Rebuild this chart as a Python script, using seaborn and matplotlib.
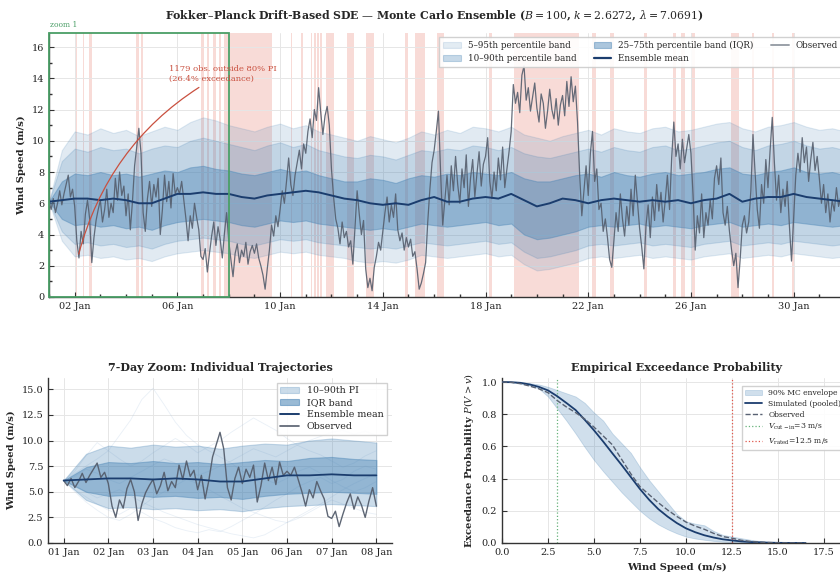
import numpy as np
import pandas as pd
import matplotlib
matplotlib.use("Agg")
import matplotlib.pyplot as plt
import matplotlib.dates as mdates
from matplotlib.patches import Patch, Rectangle
from matplotlib.lines import Line2D
from matplotlib.ticker import MultipleLocator
import seaborn as sns

# ---------------- data ----------------
START = "2024-01-01"
OBS_STEP_H = 2          # observed values every 2 hours
BAND_STEP_H = 12        # ensemble statistics every 12 hours
TRAJ_STEP_H = 6         # sample trajectories every 6 hours

obs_days = [
    [6.1, 5.6, 6.3, 5.4, 6.0, 6.8, 5.9, 6.6, 7.2, 7.8, 6.4, 6.9],
    [5.8, 3.6, 2.5, 4.2, 3.4, 5.3, 6.2, 5.0, 2.2, 3.8, 4.9, 5.6],
    [6.2, 4.8, 5.6, 6.9, 5.1, 6.0, 5.4, 7.6, 6.2, 8.0, 6.5, 7.1],
    [5.2, 6.6, 4.3, 6.1, 8.4, 9.6, 10.8, 9.2, 5.4, 4.2, 6.3, 7.4],
    [5.8, 7.2, 6.4, 7.6, 4.0, 5.6, 7.8, 6.1, 7.4, 5.7, 7.9, 6.6],
    [7.0, 6.6, 7.4, 6.2, 5.0, 3.6, 5.2, 4.4, 6.0, 5.1, 4.3, 2.6],
    [2.4, 3.1, 1.6, 2.8, 3.9, 4.8, 3.3, 4.5, 3.7, 2.5, 4.1, 5.4],
    [3.6, 2.4, 1.3, 2.8, 3.4, 2.2, 3.0, 2.6, 3.5, 2.1, 2.9, 3.3],
    [2.8, 3.4, 2.5, 2.0, 1.4, 0.5, 1.8, 3.0, 4.6, 3.9, 5.2, 4.5],
    [5.6, 6.8, 6.0, 7.4, 8.9, 7.2, 6.5, 7.8, 8.6, 9.4, 8.2, 9.8],
    [9.2, 10.6, 11.4, 10.2, 12.0, 11.3, 13.4, 11.8, 10.4, 11.6, 12.2, 11.0],
    [8.2, 6.4, 5.0, 4.4, 3.4, 4.8, 3.8, 4.2, 3.2, 3.6, 2.1, 4.4],
    [6.8, 5.3, 4.0, 4.9, 1.8, 0.6, 1.2, 0.4, 1.9, 2.6, 3.5, 3.0],
    [4.2, 5.4, 6.4, 4.8, 5.9, 5.1, 6.6, 4.3, 3.6, 4.1, 3.0, 3.8],
    [3.2, 3.7, 2.6, 2.9, 1.8, 0.5, 0.9, 1.5, 2.2, 4.8, 6.9, 8.6],
    [9.4, 10.6, 11.9, 8.0, 4.6, 6.2, 7.8, 5.9, 8.4, 6.8, 9.0, 7.2],
    [6.0, 8.2, 7.0, 9.1, 5.8, 7.6, 8.8, 6.4, 7.9, 9.3, 7.1, 8.5],
    [9.0, 10.2, 7.4, 6.3, 8.0, 6.8, 8.9, 7.5, 9.6, 7.0, 8.2, 9.3],
    [10.6, 13.6, 12.4, 13.1, 11.8, 14.2, 14.8, 12.6, 13.4, 11.9, 12.8, 13.7],
    [12.1, 11.2, 13.0, 12.4, 10.8, 11.9, 13.3, 12.0, 11.4, 12.7, 11.0, 12.3],
    [12.9, 11.6, 13.8, 12.2, 14.1, 12.5, 13.5, 11.2, 7.8, 5.2, 6.8, 8.4],
    [6.5, 9.2, 10.6, 7.4, 8.2, 5.6, 6.0, 4.2, 5.0, 3.8, 2.4, 1.9],
    [3.6, 5.4, 4.2, 6.6, 5.0, 3.9, 5.8, 4.6, 6.9, 5.2, 7.8, 6.1],
    [4.4, 3.2, 1.8, 4.6, 5.9, 3.8, 6.4, 4.9, 7.2, 5.5, 6.7, 4.8],
    [6.2, 7.8, 5.6, 8.9, 11.2, 9.0, 9.8, 8.2, 10.1, 8.6, 9.5, 10.4],
    [9.2, 6.5, 3.0, 5.2, 4.1, 6.6, 3.8, 5.4, 4.6, 6.2, 5.0, 7.6],
    [8.4, 7.2, 8.9, 5.4, 4.6, 5.8, 4.2, 3.0, 2.0, 2.8, 0.6, 2.4],
    [4.6, 5.2, 4.1, 4.8, 6.8, 10.4, 7.9, 5.6, 4.4, 7.2, 6.0, 8.8],
    [7.0, 9.4, 11.5, 8.6, 6.2, 7.8, 5.4, 6.9, 5.8, 7.4, 4.6, 2.3],
    [5.0, 7.8, 9.2, 8.0, 10.2, 8.6, 9.6, 7.4, 8.8, 9.9, 8.1, 9.0],
    [7.6, 6.0, 7.2, 5.4, 6.6, 4.8, 6.2, 5.5, 7.0, 5.8, 6.4, 5.2],
]
obs_last = 6.0

ens_mean = [6.1, 6.2, 6.3, 6.3, 6.2, 6.3, 6.2, 6.0, 6.0, 6.3, 6.6, 6.6, 6.7, 6.6, 6.6,
            6.4, 6.3, 6.5, 6.6, 6.7, 6.8, 6.7, 6.5, 6.3, 6.2, 6.0, 5.9, 6.0, 5.9, 6.2,
            6.4, 6.1, 6.1, 6.3, 6.4, 6.3, 6.6, 6.2, 5.8, 6.0, 6.3, 6.2, 6.0, 6.2, 6.3,
            6.2, 6.1, 6.2, 6.1, 6.2, 6.0, 6.2, 6.3, 6.6, 6.1, 6.3, 6.4, 6.4, 6.6, 6.4,
            6.3, 6.2, 6.1]
p95 = [6.1, 9.4, 10.6, 10.4, 10.8, 10.5, 10.7, 10.3, 10.6, 10.9,
       10.7, 11.2, 11.5, 11.3, 11.0, 10.8, 10.6, 10.9, 11.1, 10.8,
       11.0, 10.6, 10.4, 10.2, 10.0, 10.3, 10.1, 9.9, 10.2, 10.6,
       10.4, 10.7, 10.5, 10.9, 10.8, 10.6, 10.9, 10.4, 10.2, 10.0,
       10.3, 10.5, 10.7, 10.4, 10.8, 10.6, 10.5, 10.8, 10.9, 10.6,
       10.7, 10.9, 11.1, 11.2, 10.8, 10.6, 10.9, 11.0, 11.2, 10.9,
       10.7, 10.8, 10.6]
p90 = [6.1, 8.7, 9.5, 9.3, 9.6, 9.4, 9.5, 9.2, 9.5, 9.7,
       9.6, 10.0, 10.2, 10.0, 9.8, 9.6, 9.4, 9.7, 9.9, 9.6,
       9.8, 9.4, 9.2, 9.0, 8.9, 9.1, 9.0, 8.8, 9.1, 9.4,
       9.3, 9.5, 9.4, 9.7, 9.6, 9.4, 9.6, 9.2, 9.0, 8.9,
       9.1, 9.3, 9.5, 9.3, 9.6, 9.4, 9.3, 9.6, 9.7, 9.4,
       9.5, 9.7, 9.9, 10.0, 9.6, 9.4, 9.7, 9.8, 10.0, 9.7,
       9.5, 9.6, 9.4]
p75 = [6.1, 7.4, 7.9, 7.8, 8.0, 7.8, 7.9, 7.7, 7.9, 8.1,
       8.0, 8.3, 8.4, 8.2, 8.1, 7.9, 7.8, 8.0, 8.2, 8.0,
       8.1, 7.8, 7.6, 7.4, 7.4, 7.6, 7.5, 7.3, 7.6, 7.8,
       7.7, 7.9, 7.8, 8.0, 7.9, 7.8, 8.0, 7.6, 7.4, 7.4,
       7.6, 7.8, 7.9, 7.7, 8.0, 7.8, 7.7, 7.9, 8.0, 7.8,
       7.9, 8.0, 8.2, 8.3, 7.9, 7.8, 8.0, 8.1, 8.3, 8.0,
       7.9, 8.0, 7.8]
p25 = [6.1, 5.0, 4.6, 4.7, 4.5, 4.6, 4.4, 4.5, 4.3, 4.6,
       4.8, 4.9, 5.0, 4.9, 4.8, 4.6, 4.5, 4.7, 4.9, 4.8,
       4.9, 4.7, 4.6, 4.5, 4.4, 4.3, 4.4, 4.3, 4.5, 4.7,
       4.6, 4.5, 4.6, 4.7, 4.8, 4.6, 4.7, 4.0, 3.7, 3.8,
       4.0, 4.2, 4.5, 4.6, 4.5, 4.6, 4.7, 4.5, 4.6, 4.5,
       4.4, 4.6, 4.7, 4.8, 4.5, 4.6, 4.7, 4.6, 4.8, 4.7,
       4.6, 4.5, 4.6]
p10 = [6.1, 4.2, 3.4, 3.5, 3.3, 3.4, 3.2, 3.3, 3.1, 3.4,
       3.6, 3.7, 3.8, 3.7, 3.6, 3.4, 3.3, 3.5, 3.7, 3.6,
       3.7, 3.5, 3.4, 3.3, 3.2, 3.1, 3.2, 3.1, 3.3, 3.5,
       3.4, 3.3, 3.4, 3.5, 3.6, 3.4, 3.5, 2.9, 2.5, 2.6,
       2.8, 3.0, 3.3, 3.4, 3.3, 3.4, 3.5, 3.3, 3.4, 3.3,
       3.2, 3.4, 3.5, 3.6, 3.3, 3.4, 3.5, 3.4, 3.6, 3.5,
       3.4, 3.3, 3.4]
p5 = [6.1, 3.6, 2.6, 2.7, 2.5, 2.6, 2.4, 2.5, 2.3, 2.6,
      2.8, 2.9, 3.0, 2.9, 2.8, 2.6, 2.5, 2.7, 2.9, 2.8,
      2.9, 2.7, 2.6, 2.5, 2.3, 2.2, 2.3, 2.2, 2.4, 2.7,
      2.6, 2.5, 2.6, 2.7, 2.8, 2.6, 2.7, 2.1, 1.7, 1.8,
      2.0, 2.2, 2.5, 2.6, 2.5, 2.6, 2.7, 2.5, 2.6, 2.5,
      2.4, 2.6, 2.7, 2.8, 2.5, 2.6, 2.7, 2.6, 2.8, 2.7,
      2.6, 2.5, 2.6]

# periods (day offsets from START) where observed falls outside the 10-90% band
exceed_start = [1.06, 1.15, 1.23, 1.32, 1.55, 3.40, 3.57, 5.93, 6.17, 6.37, 6.63, 6.83,
                7.06, 9.44, 9.82, 10.20, 10.32, 10.44, 10.57, 10.77, 11.62, 12.33,
                13.85, 14.27, 15.12, 17.13, 18.10, 21.13, 21.86, 23.19, 24.30, 24.62,
                25.00, 26.57, 27.36, 28.14, 28.95]
exceed_end = [1.09, 1.18, 1.26, 1.35, 1.67, 3.51, 3.67, 6.05, 6.23, 6.50, 6.69, 6.96,
              8.70, 9.47, 9.88, 10.25, 10.38, 10.50, 10.64, 11.10, 11.87, 12.64,
              13.98, 14.66, 15.38, 17.24, 20.65, 21.30, 21.99, 23.29, 24.43, 24.75,
              25.15, 26.87, 27.46, 28.23, 29.05]

traj_a = [6.1, 6.8, 7.5, 8.2, 9.0, 10.5, 12.0, 14.0, 15.1, 13.5, 11.8, 10.5, 9.6, 9.0, 8.4,
          7.8, 7.0, 6.5, 6.2, 5.8, 6.3, 7.0, 7.4, 6.8, 6.1, 5.5, 5.0, 5.4, 6.0]
traj_b = [6.1, 5.2, 4.5, 3.8, 3.2, 2.8, 3.4, 3.0, 2.4, 2.0, 1.5, 1.2, 1.0, 1.3, 1.1,
          1.6, 2.2, 2.8, 3.5, 4.2, 4.8, 5.5, 6.0, 6.4, 5.8, 6.2, 7.0, 7.5, 7.2]
traj_c = [6.1, 7.0, 8.5, 9.8, 9.0, 8.2, 7.5, 8.0, 8.8, 9.5, 10.2, 9.6, 8.8, 9.4, 10.0,
          10.8, 11.5, 12.2, 11.6, 11.0, 10.2, 9.5, 9.0, 8.6, 8.0, 7.4, 7.8, 8.5, 9.0]
traj_d = [6.1, 5.6, 5.0, 4.4, 4.8, 5.2, 4.6, 4.0, 3.5, 3.0, 2.6, 2.2, 1.8, 1.5, 1.2,
          0.9, 0.7, 0.5, 0.8, 1.4, 2.0, 2.6, 3.2, 3.8, 4.5, 5.2, 5.8, 6.3, 6.8]
traj_e = [6.1, 6.5, 7.2, 6.8, 6.2, 5.8, 6.4, 7.0, 7.6, 8.2, 7.8, 7.2, 6.6, 7.0, 7.5,
          8.0, 8.6, 9.2, 8.8, 8.4, 9.0, 9.6, 10.0, 10.4, 10.8, 11.0, 10.6, 10.9, 10.5]
traj_f = [6.1, 5.0, 4.0, 3.2, 2.5, 2.2, 2.8, 3.6, 4.4, 5.0, 5.6, 6.2, 5.8, 5.2, 4.6,
          4.0, 3.4, 3.0, 2.6, 2.2, 2.0, 2.4, 3.0, 3.6, 4.2, 3.8, 3.4, 3.0, 2.8]

speed_grid = [0, 0.5, 1, 1.5, 2, 2.5, 3, 3.5, 4, 4.5, 5, 5.5, 6, 6.5, 7, 7.5, 8, 8.5,
              9, 9.5, 10, 10.5, 11, 11.5, 12, 12.5, 13, 13.5, 14, 14.5, 15, 15.5, 16, 16.5]
exc_sim = [1.0, 0.999, 0.995, 0.985, 0.97, 0.948, 0.912, 0.87, 0.826, 0.765, 0.70, 0.63,
           0.557, 0.485, 0.41, 0.335, 0.268, 0.21, 0.164, 0.124, 0.091, 0.067, 0.048,
           0.034, 0.023, 0.016, 0.010, 0.006, 0.004, 0.002, 0.001, 0.0006, 0.0003, 0.0001]
exc_obs = [1.0, 0.998, 0.99, 0.975, 0.958, 0.934, 0.885, 0.845, 0.81, 0.77, 0.72, 0.665,
           0.61, 0.52, 0.43, 0.35, 0.30, 0.25, 0.205, 0.165, 0.13, 0.105, 0.085, 0.06,
           0.04, 0.03, 0.017, 0.01, 0.005, 0.003, 0.001, 0.0005, 0.0002, 0.0]
env_hi = [1.0, 1.0, 0.998, 0.993, 0.985, 0.97, 0.95, 0.93, 0.91, 0.87, 0.81, 0.76,
          0.68, 0.62, 0.56, 0.47, 0.39, 0.32, 0.25, 0.18, 0.135, 0.12, 0.11, 0.075,
          0.05, 0.04, 0.03, 0.02, 0.012, 0.006, 0.003, 0.001, 0.0, 0.0]
env_lo = [1.0, 0.998, 0.99, 0.978, 0.96, 0.91, 0.835, 0.76, 0.68, 0.595, 0.515, 0.445,
          0.38, 0.315, 0.257, 0.20, 0.153, 0.115, 0.085, 0.06, 0.04, 0.028, 0.02,
          0.013, 0.008, 0.005, 0.003, 0.001, 0.0, 0.0, 0.0, 0.0, 0.0, 0.0]
v_cut_in = 3.0
v_rated = 12.5

# ---------------- style ----------------
sns.set_theme(style="whitegrid")
plt.rcParams.update({
    "font.family": ["DejaVu Serif"],
    "mathtext.fontset": "dejavuserif",
    "axes.edgecolor": "#333333",
    "axes.linewidth": 1.0,
    "xtick.direction": "in", "ytick.direction": "in",
    "xtick.bottom": True, "ytick.left": True,
    "xtick.major.size": 3.5, "ytick.major.size": 3.5,
    "xtick.minor.size": 2, "ytick.minor.size": 2,
    "xtick.major.width": 0.8, "ytick.major.width": 0.8,
    "xtick.color": "#333333", "ytick.color": "#333333",
    "xtick.labelcolor": "#222222", "ytick.labelcolor": "#222222",
    "xtick.labelsize": 7, "ytick.labelsize": 7,
    "grid.color": "#e6e6e6", "grid.linewidth": 0.7,
    "axes.labelsize": 7.2, "axes.labelweight": "bold",
    "axes.titlesize": 8, "axes.titleweight": "bold",
    "legend.fontsize": 7,
})

BAND = "#4682b4"
MEAN = "#1b3d6e"
OBS = "#555e6d"
EXC = "#e25b4c"
GREEN = "#4a9e66"
RED_TXT = "#c9503f"

base = mdates.date2num(pd.Timestamp(START))
obs_vals = np.array([v for day in obs_days for v in day] + [obs_last])
obs_t = base + np.arange(len(obs_vals)) * OBS_STEP_H / 24.0
band_t = base + np.arange(len(ens_mean)) * BAND_STEP_H / 24.0
p5a, p10a, p25a, p75a, p90a, p95a, meana = map(np.array, (p5, p10, p25, p75, p90, p95, ens_mean))

fig = plt.figure(figsize=(8.4, 5.73), dpi=100)
W, H = 840.0, 573.0
ax1 = fig.add_axes([49 / W, 1 - 297 / H, 796 / W, 264 / H])
ax2 = fig.add_axes([48 / W, 1 - 543 / H, 344 / W, 165 / H])
ax3 = fig.add_axes([502 / W, 1 - 543 / H, 349.6 / W, 165 / H])

# ---------------- top panel ----------------
for s, e in zip(exceed_start, exceed_end):
    ax1.axvspan(base + s, base + e, color=EXC, alpha=0.22, lw=0, zorder=0.5)
ax1.fill_between(band_t, p5a, p95a, color=BAND, alpha=0.16, lw=0.8, zorder=1)
ax1.fill_between(band_t, p10a, p90a, color=BAND, alpha=0.2, lw=0.8, zorder=1.1)
ax1.fill_between(band_t, p25a, p75a, color=BAND, alpha=0.4, lw=0.8, zorder=1.2)
sns.lineplot(x=obs_t, y=obs_vals, ax=ax1, color=OBS, lw=0.9, alpha=0.9, zorder=3)
sns.lineplot(x=band_t, y=meana, ax=ax1, color=MEAN, lw=1.4, zorder=4)

ymax_top = 16.9
ax1.set_xlim(base, base + 31)
ax1.set_ylim(0, ymax_top)
ax1.add_patch(Rectangle((base, 0), 7, ymax_top, fill=False, edgecolor=GREEN,
                        lw=1.3, zorder=6, clip_on=False))
ax1.text(base + 0.02, ymax_top + 0.25, "zoom 1", fontsize=5.5, color=GREEN,
         ha="left", va="bottom")
n_out, pct_out = 1179, 26.4
ax1.annotate(f"{n_out} obs. outside 80% PI\n({pct_out}% exceedance)",
             xy=(base + 1.13, 2.58), xytext=(base + 6.76, 14.3),
             ha="center", va="center", ma="left", fontsize=6, color=RED_TXT,
             linespacing=1.35,
             arrowprops=dict(arrowstyle="-", color=RED_TXT, lw=0.9,
                             connectionstyle="arc3,rad=0.22"), zorder=7)
ax1.xaxis.set_major_locator(mdates.DayLocator(bymonthday=[2, 6, 10, 14, 18, 22, 26, 30]))
ax1.xaxis.set_minor_locator(mdates.DayLocator())
ax1.xaxis.set_major_formatter(mdates.DateFormatter("%d %b"))
ax1.yaxis.set_major_locator(MultipleLocator(2))
ax1.yaxis.set_minor_locator(MultipleLocator(1))
ax1.set_ylabel("Wind Speed (m/s)")
ax1.set_xlabel("")
h1 = [Patch(facecolor=BAND, alpha=0.15, edgecolor=BAND, lw=0.8),
      Patch(facecolor=BAND, alpha=0.3, edgecolor=BAND, lw=0.8),
      Patch(facecolor=BAND, alpha=0.45, edgecolor=BAND, lw=0.8),
      Line2D([], [], color=MEAN, lw=1.6),
      Line2D([], [], color="#9aa0a8", lw=1.4)]
l1 = ["5–95th percentile band", "10–90th percentile band", "25–75th percentile band (IQR)",
      "Ensemble mean", "Observed"]
ax1.legend(h1, l1, ncol=3, loc="upper right", bbox_to_anchor=(1.0015, 1.0), fontsize=6.3,
           frameon=True, framealpha=0.9, edgecolor="#cccccc", fancybox=False,
           borderaxespad=0.5, columnspacing=2.0, handlelength=2.0, handletextpad=0.8,
           borderpad=0.45, labelspacing=0.45)

# ---------------- bottom-left: 7-day zoom ----------------
zoom_days = 7
traj_t = base + np.arange(len(traj_a)) * TRAJ_STEP_H / 24.0
for tr in (traj_a, traj_b, traj_c, traj_d, traj_e, traj_f):
    sns.lineplot(x=traj_t, y=tr, ax=ax2, color="#a9c3df", lw=0.6, alpha=0.25, zorder=1)
mz = band_t <= base + zoom_days + 1e-9
ax2.fill_between(band_t[mz], p10a[mz], p90a[mz], color=BAND, alpha=0.28, lw=0.8, zorder=2)
ax2.fill_between(band_t[mz], p25a[mz], p75a[mz], color=BAND, alpha=0.42, lw=0.8, zorder=2.1)
mo = obs_t <= base + zoom_days + 1e-9
sns.lineplot(x=obs_t[mo], y=obs_vals[mo], ax=ax2, color=OBS, lw=1.0, alpha=0.95, zorder=3)
sns.lineplot(x=band_t[mz], y=meana[mz], ax=ax2, color=MEAN, lw=1.3, zorder=4)
ax2.set_xlim(base - 0.35, base + zoom_days + 0.35)
ax2.set_ylim(0, 16.1)
ax2.xaxis.set_major_locator(mdates.DayLocator())
ax2.xaxis.set_major_formatter(mdates.DateFormatter("%d %b"))
ax2.yaxis.set_major_locator(MultipleLocator(2.5))
ax2.set_title("7-Day Zoom: Individual Trajectories", pad=5)
ax2.set_ylabel("Wind Speed (m/s)")
ax2.set_xlabel("")
h2 = [Patch(facecolor=BAND, alpha=0.28, edgecolor=BAND, lw=0.8),
      Patch(facecolor=BAND, alpha=0.55, edgecolor=BAND, lw=0.8),
      Line2D([], [], color=MEAN, lw=1.4),
      Line2D([], [], color=OBS, lw=1.2)]
ax2.legend(h2, ["10–90th PI", "IQR band", "Ensemble mean", "Observed"], loc="upper right",
           fontsize=6.8, frameon=True, framealpha=0.9, edgecolor="#cccccc", fancybox=False,
           borderpad=0.4, labelspacing=0.3, handlelength=2.0)

# ---------------- bottom-right: exceedance ----------------
ax3.fill_between(speed_grid, env_lo, env_hi, color=BAND, alpha=0.25, lw=0.6, zorder=1)
sns.lineplot(x=speed_grid, y=exc_sim, ax=ax3, color=MEAN, lw=1.3, zorder=3)
sns.lineplot(x=speed_grid, y=exc_obs, ax=ax3, color="#596273", lw=1.0, linestyle="--", zorder=3)
ax3.axvline(v_cut_in, color="#66b27a", lw=0.9, ls=":", zorder=2)
ax3.axvline(v_rated, color="#e0554a", lw=0.9, ls=":", zorder=2)
ax3.set_xlim(0, 19)
ax3.set_ylim(0, 1.025)
ax3.xaxis.set_major_locator(MultipleLocator(2.5))
ax3.yaxis.set_major_locator(MultipleLocator(0.2))
ax3.set_title("Empirical Exceedance Probability", pad=5)
ax3.set_xlabel("Wind Speed (m/s)")
ax3.set_ylabel(r"Exceedance Probability $P(V > v)$")
h3 = [Patch(facecolor=BAND, alpha=0.25, edgecolor=BAND, lw=0.6),
      Line2D([], [], color=MEAN, lw=1.3),
      Line2D([], [], color="#596273", lw=1.0, ls="--"),
      Line2D([], [], color="#66b27a", lw=0.9, ls=":"),
      Line2D([], [], color="#e0554a", lw=0.9, ls=":")]
l3 = ["90% MC envelope", "Simulated (pooled)", "Observed",
      r"$V_{\rm cut-in}$=3 m/s", r"$V_{\rm rated}$=12.5 m/s"]
ax3.legend(h3, l3, loc="upper right", bbox_to_anchor=(0.99, 0.975), fontsize=5.5,
           frameon=True, framealpha=0.9, edgecolor="#cccccc", fancybox=False,
           borderpad=0.4, labelspacing=0.4, handlelength=2.2)

for ax in (ax1, ax2, ax3):
    sns.despine(ax=ax)
    ax.grid(True, which="major", color="#e6e6e6", lw=0.7)
    ax.set_axisbelow(True)

fig.suptitle(r"Fokker–Planck Drift-Based SDE — Monte Carlo Ensemble ($B = 100$, $k = 2.6272$, $\lambda = 7.0691$)",
             x=434 / W, y=0.986, fontsize=7.8, fontweight="bold")

fig.savefig("out.png", dpi=100)
